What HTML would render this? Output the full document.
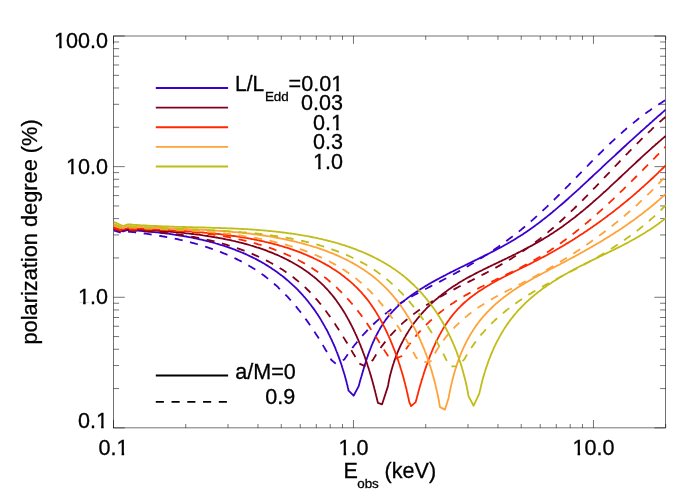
<!DOCTYPE html><html><head><meta charset="utf-8"><style>html,body{margin:0;padding:0;background:#fff}svg{display:block}text{font-family:"Liberation Sans",sans-serif;fill:#000}</style></head><body>
<svg style="will-change:transform" width="700" height="500" viewBox="0 0 700 500">
<rect width="700" height="500" fill="#fff"/>
<g stroke="#000" stroke-width="0.55" fill="none">
<rect x="113.5" y="36.0" width="552.20" height="391.90"/>
<path d="M113.50 427.9v-7.9M113.50 36.0v7.9M185.74 427.9v-3.9M185.74 36.0v3.9M228.00 427.9v-3.9M228.00 36.0v3.9M257.98 427.9v-3.9M257.98 36.0v3.9M281.24 427.9v-3.9M281.24 36.0v3.9M300.24 427.9v-3.9M300.24 36.0v3.9M316.31 427.9v-3.9M316.31 36.0v3.9M330.22 427.9v-3.9M330.22 36.0v3.9M342.50 427.9v-3.9M342.50 36.0v3.9M353.48 427.9v-7.9M353.48 36.0v7.9M425.72 427.9v-3.9M425.72 36.0v3.9M467.98 427.9v-3.9M467.98 36.0v3.9M497.96 427.9v-3.9M497.96 36.0v3.9M521.22 427.9v-3.9M521.22 36.0v3.9M540.22 427.9v-3.9M540.22 36.0v3.9M556.29 427.9v-3.9M556.29 36.0v3.9M570.20 427.9v-3.9M570.20 36.0v3.9M582.48 427.9v-3.9M582.48 36.0v3.9M593.46 427.9v-7.9M593.46 36.0v7.9M665.70 427.9v-3.9M665.70 36.0v3.9M113.5 427.90h11.3M665.7 427.90h-11.3M113.5 388.58h5.6M665.7 388.58h-5.6M113.5 365.57h5.6M665.7 365.57h-5.6M113.5 349.25h5.6M665.7 349.25h-5.6M113.5 336.59h5.6M665.7 336.59h-5.6M113.5 326.25h5.6M665.7 326.25h-5.6M113.5 317.50h5.6M665.7 317.50h-5.6M113.5 309.93h5.6M665.7 309.93h-5.6M113.5 303.24h5.6M665.7 303.24h-5.6M113.5 297.27h11.3M665.7 297.27h-11.3M113.5 257.94h5.6M665.7 257.94h-5.6M113.5 234.94h5.6M665.7 234.94h-5.6M113.5 218.62h5.6M665.7 218.62h-5.6M113.5 205.96h5.6M665.7 205.96h-5.6M113.5 195.61h5.6M665.7 195.61h-5.6M113.5 186.87h5.6M665.7 186.87h-5.6M113.5 179.29h5.6M665.7 179.29h-5.6M113.5 172.61h5.6M665.7 172.61h-5.6M113.5 166.63h11.3M665.7 166.63h-11.3M113.5 127.31h5.6M665.7 127.31h-5.6M113.5 104.31h5.6M665.7 104.31h-5.6M113.5 87.98h5.6M665.7 87.98h-5.6M113.5 75.32h5.6M665.7 75.32h-5.6M113.5 64.98h5.6M665.7 64.98h-5.6M113.5 56.24h5.6M665.7 56.24h-5.6M113.5 48.66h5.6M665.7 48.66h-5.6M113.5 41.98h5.6M665.7 41.98h-5.6M113.5 36.00h11.3M665.7 36.00h-11.3"/>
</g>
<defs><clipPath id="pc"><rect x="113.5" y="36" width="552.6" height="391.8"/></clipPath></defs><g clip-path="url(#pc)"><path d="M113.5 228.5L123.0 231.5L128.0 230.0L129.4 230.1L130.9 230.2L132.4 230.3L133.8 230.4L135.3 230.5L136.7 230.6L138.2 230.7L139.7 230.8L141.1 230.9L142.6 231.0L144.1 231.1L145.6 231.3L147.1 231.4L148.6 231.5L150.1 231.7L151.5 231.8L153.0 232.0L154.5 232.1L156.0 232.3L157.5 232.4L159.0 232.6L160.5 232.8L162.0 233.0L163.5 233.1L165.0 233.3L166.6 233.5L168.1 233.7L169.6 233.9L171.1 234.1L172.6 234.3L174.1 234.6L175.6 234.8L177.1 235.0L178.6 235.3L180.1 235.5L181.7 235.8L183.2 236.0L184.7 236.3L186.2 236.5L187.7 236.8L189.2 237.1L190.7 237.4L192.2 237.7L193.7 238.0L195.2 238.3L196.7 238.6L198.2 239.0L199.7 239.3L201.2 239.6L202.7 240.0L204.2 240.3L205.7 240.7L207.2 241.1L208.7 241.4L210.1 241.8L211.6 242.2L213.1 242.6L214.6 243.0L216.1 243.5L217.5 243.9L219.0 244.3L220.5 244.8L221.9 245.2L223.4 245.7L224.8 246.2L226.3 246.6L227.7 247.1L229.2 247.6L230.6 248.1L232.0 248.6L233.4 249.2L234.9 249.7L236.3 250.3L237.7 250.8L239.1 251.4L240.5 252.0L241.9 252.5L243.3 253.1L244.7 253.7L246.1 254.3L247.5 255.0L248.8 255.6L250.2 256.3L251.6 256.9L252.9 257.6L254.3 258.3L255.6 258.9L256.9 259.6L258.3 260.4L259.6 261.1L260.9 261.8L262.2 262.6L263.5 263.3L264.8 264.1L266.1 264.9L267.4 265.6L268.6 266.4L269.9 267.2L271.2 268.1L272.4 268.9L273.7 269.7L274.9 270.6L276.1 271.4L277.3 272.3L278.5 273.2L279.7 274.1L280.9 275.0L282.1 275.9L283.3 276.8L284.5 277.8L285.6 278.7L286.8 279.7L287.9 280.6L289.0 281.6L290.1 282.6L291.2 283.6L292.3 284.6L293.4 285.6L294.5 286.6L295.6 287.6L296.6 288.7L297.7 289.7L298.7 290.8L299.7 291.9L300.8 293.0L301.8 294.1L302.8 295.2L303.7 296.3L304.7 297.4L305.7 298.5L306.6 299.7L307.6 300.8L308.5 302.0L309.4 303.2L310.3 304.3L311.2 305.5L312.1 306.7L313.0 307.9L313.9 309.1L314.7 310.3L315.6 311.6L316.4 312.8L317.3 314.0L318.1 315.3L318.9 316.6L319.7 317.8L320.5 319.1L321.3 320.4L322.0 321.7L322.8 322.9L323.5 324.2L324.3 325.6L325.0 326.9L325.7 328.2L326.5 329.5L327.2 330.8L327.9 332.2L328.5 333.5L329.2 334.9L329.9 336.2L330.5 337.6L331.2 338.9L331.8 340.3L332.4 341.7L333.1 343.1L333.7 344.5L334.3 345.8L334.9 347.2L335.5 348.6L336.0 350.0L336.6 351.5L337.2 352.9L337.7 354.3L338.2 355.7L338.8 357.1L339.3 358.6L339.8 360.0L340.3 361.4L340.8 362.9L341.3 364.3L341.8 365.8L342.2 367.2L342.7 368.7L343.1 370.1L343.6 371.6L344.0 373.0L344.5 374.5L344.9 376.0L345.3 377.4L345.7 378.9L346.1 380.4L346.5 381.8L346.8 383.3L347.2 384.8L347.6 386.3L347.9 387.7L348.3 389.2L348.6 390.7L353.6 395.7L358.6 386.4L359.0 385.0L359.4 383.5L359.8 382.1L360.2 380.6L360.6 379.2L361.0 377.7L361.5 376.3L361.9 374.8L362.3 373.4L362.7 371.9L363.2 370.4L363.6 369.0L364.0 367.5L364.5 366.0L364.9 364.6L365.4 363.1L365.8 361.7L366.3 360.2L366.8 358.8L367.3 357.3L367.8 355.9L368.3 354.4L368.8 353.0L369.3 351.6L369.9 350.1L370.4 348.7L371.0 347.3L371.5 345.9L372.1 344.5L372.7 343.1L373.3 341.7L374.0 340.3L374.6 338.9L375.2 337.6L375.9 336.2L376.6 334.9L377.3 333.5L378.0 332.2L378.7 330.9L379.5 329.6L380.2 328.3L381.0 327.0L381.8 325.7L382.6 324.5L383.4 323.2L384.2 322.0L385.1 320.8L385.9 319.6L386.8 318.4L387.7 317.2L388.7 316.1L389.6 314.9L390.6 313.8L391.5 312.7L392.5 311.6L393.5 310.5L394.6 309.5L395.6 308.4L396.6 307.4L397.7 306.4L398.8 305.4L399.9 304.4L401.0 303.4L402.1 302.4L403.3 301.5L404.4 300.5L405.6 299.6L406.8 298.7L408.0 297.8L409.2 296.9L410.4 296.0L411.6 295.1L412.8 294.3L414.0 293.4L415.3 292.6L416.5 291.7L417.8 290.9L419.0 290.1L420.3 289.3L421.6 288.5L422.9 287.7L424.2 286.9L425.5 286.1L426.8 285.4L428.1 284.6L429.4 283.8L430.7 283.1L432.0 282.3L433.3 281.6L434.6 280.9L435.9 280.1L437.3 279.4L438.6 278.7L439.9 278.0L441.2 277.3L442.6 276.6L443.9 275.9L445.3 275.2L446.6 274.5L447.9 273.8L449.3 273.1L450.6 272.4L452.0 271.7L453.3 271.1L454.7 270.4L456.0 269.7L457.4 269.0L458.7 268.4L460.1 267.7L461.5 267.0L462.8 266.4L464.2 265.7L465.5 265.0L466.9 264.4L468.2 263.7L469.6 263.1L471.0 262.4L472.3 261.7L473.7 261.1L475.0 260.4L476.4 259.7L477.7 259.1L479.1 258.4L480.4 257.7L481.8 257.1L483.2 256.4L484.5 255.7L485.9 255.1L487.2 254.4L488.5 253.7L489.9 253.0L491.2 252.3L492.6 251.6L493.9 250.9L495.3 250.2L496.6 249.5L497.9 248.8L499.2 248.1L500.6 247.4L501.9 246.7L503.2 246.0L504.5 245.2L505.8 244.5L507.2 243.8L508.5 243.0L509.8 242.3L511.1 241.5L512.4 240.7L513.7 240.0L514.9 239.2L516.2 238.4L517.5 237.6L518.8 236.8L520.1 236.0L521.3 235.2L522.6 234.4L523.8 233.6L525.1 232.7L526.3 231.9L527.6 231.0L528.8 230.2L530.1 229.3L531.3 228.4L532.5 227.6L533.7 226.7L535.0 225.8L536.2 224.9L537.4 224.0L538.6 223.1L539.8 222.2L541.0 221.3L542.2 220.3L543.4 219.4L544.6 218.5L545.8 217.5L547.0 216.6L548.1 215.6L549.3 214.7L550.5 213.7L551.7 212.8L552.8 211.8L554.0 210.8L555.2 209.9L556.3 208.9L557.5 207.9L558.6 206.9L559.8 205.9L560.9 205.0L562.1 204.0L563.2 203.0L564.4 202.0L565.5 201.0L566.6 200.0L567.8 199.0L568.9 197.9L570.0 196.9L571.2 195.9L572.3 194.9L573.4 193.9L574.5 192.9L575.7 191.8L576.8 190.8L577.9 189.8L579.0 188.8L580.1 187.8L581.2 186.7L582.4 185.7L583.5 184.7L584.6 183.7L585.7 182.6L586.8 181.6L587.9 180.6L589.0 179.5L590.1 178.5L591.2 177.5L592.3 176.5L593.4 175.4L594.5 174.4L595.6 173.4L596.7 172.4L597.8 171.3L598.9 170.3L600.0 169.3L601.1 168.3L602.2 167.2L603.3 166.2L604.4 165.2L605.4 164.2L606.5 163.2L607.6 162.2L608.7 161.1L609.8 160.1L610.9 159.1L612.0 158.1L613.1 157.1L614.2 156.1L615.3 155.1L616.4 154.0L617.5 153.0L618.6 152.0L619.7 151.0L620.8 150.0L621.8 149.0L622.9 148.0L624.0 147.0L625.1 146.0L626.2 145.0L627.3 143.9L628.4 142.9L629.5 141.9L630.6 140.9L631.8 139.9L632.9 138.9L634.0 137.9L635.1 136.9L636.2 135.9L637.3 134.9L638.4 133.9L639.5 132.9L640.6 131.8L641.8 130.8L642.9 129.8L644.0 128.8L645.1 127.8L646.2 126.8L647.4 125.8L648.5 124.8L649.6 123.8L650.8 122.8L651.9 121.8L653.0 120.7L654.2 119.7L655.3 118.7L656.5 117.7L657.6 116.7L658.7 115.7L659.9 114.7L661.1 113.7L662.2 112.6L663.4 111.6L664.5 110.6L665.7 109.6" stroke="#3a00cc" stroke-width="1.8" fill="none" stroke-linejoin="round"/>
<path d="M113.5 230.5L123.0 233.2L128.0 231.6L129.5 231.8L131.0 231.9L132.4 232.1L133.9 232.2L135.4 232.4L136.9 232.6L138.4 232.8L139.9 232.9L141.4 233.1L142.9 233.3L144.4 233.5L145.9 233.7L147.4 233.9L148.9 234.1L150.4 234.3L151.9 234.6L153.4 234.8L154.9 235.0L156.4 235.3L157.9 235.5L159.4 235.8L160.9 236.0L162.4 236.3L163.9 236.5L165.4 236.8L166.9 237.1L168.4 237.4L169.9 237.7L171.4 238.0L172.9 238.3L174.4 238.6L175.9 238.9L177.4 239.2L178.8 239.5L180.3 239.9L181.8 240.2L183.3 240.6L184.8 240.9L186.3 241.3L187.8 241.6L189.3 242.0L190.7 242.4L192.2 242.8L193.7 243.2L195.2 243.6L196.6 244.0L198.1 244.4L199.6 244.9L201.0 245.3L202.5 245.7L203.9 246.2L205.4 246.6L206.8 247.1L208.3 247.6L209.7 248.1L211.2 248.6L212.6 249.1L214.0 249.6L215.4 250.1L216.9 250.6L218.3 251.1L219.7 251.7L221.1 252.2L222.5 252.8L223.9 253.4L225.3 253.9L226.7 254.5L228.1 255.1L229.4 255.7L230.8 256.4L232.2 257.0L233.5 257.6L234.9 258.2L236.3 258.9L237.6 259.6L238.9 260.2L240.3 260.9L241.6 261.6L242.9 262.3L244.2 263.0L245.5 263.7L246.8 264.5L248.1 265.2L249.4 266.0L250.7 266.7L252.0 267.5L253.2 268.3L254.5 269.1L255.7 269.9L257.0 270.7L258.2 271.5L259.4 272.4L260.7 273.2L261.9 274.1L263.1 274.9L264.3 275.8L265.5 276.7L266.6 277.6L267.8 278.5L269.0 279.4L270.1 280.4L271.3 281.3L272.4 282.3L273.5 283.3L274.6 284.2L275.8 285.2L276.9 286.2L278.0 287.2L279.0 288.3L280.1 289.3L281.2 290.3L282.3 291.4L283.3 292.4L284.4 293.5L285.4 294.6L286.4 295.7L287.5 296.7L288.5 297.8L289.5 299.0L290.5 300.1L291.5 301.2L292.5 302.3L293.5 303.5L294.4 304.6L295.4 305.8L296.4 306.9L297.3 308.1L298.3 309.3L299.2 310.5L300.2 311.7L301.1 312.8L302.0 314.0L302.9 315.3L303.8 316.5L304.7 317.7L305.6 318.9L306.5 320.1L307.4 321.4L308.3 322.6L309.2 323.9L310.0 325.1L310.9 326.4L311.7 327.6L312.6 328.9L313.4 330.1L314.3 331.4L315.1 332.7L315.9 334.0L316.7 335.2L317.6 336.5L318.4 337.8L319.2 339.1L320.0 340.4L320.8 341.7L321.6 343.0L322.3 344.3L323.1 345.6L323.9 346.9L324.7 348.2L325.4 349.5L326.2 350.8L327.0 352.1L327.7 353.4L328.5 354.7L329.2 356.1L329.9 357.4L330.7 358.7L331.4 360.0L335.7 363.6" stroke="#3a00cc" stroke-width="1.8" fill="none" stroke-linejoin="round" stroke-dasharray="8.1 7.65" stroke-dashoffset="0.60"/>
<path d="M335.7 363.6L344.3 359.5L345.1 358.3L345.9 357.1L346.7 355.9L347.6 354.6L348.4 353.4L349.3 352.2L350.1 351.0L351.0 349.8L351.9 348.6L352.8 347.4L353.7 346.2L354.6 345.0L355.6 343.8L356.5 342.7L357.5 341.5L358.5 340.3L359.4 339.1L360.4 338.0L361.4 336.8L362.4 335.7L363.5 334.5L364.5 333.4L365.5 332.3L366.6 331.1L367.7 330.0L368.7 328.9L369.8 327.8L370.9 326.7L372.0 325.7L373.1 324.6L374.2 323.5L375.3 322.5L376.5 321.4L377.6 320.4L378.7 319.4L379.9 318.4L381.0 317.4L382.2 316.4L383.4 315.4L384.6 314.4L385.8 313.5L387.0 312.6L388.2 311.6L389.4 310.7L390.6 309.8L391.8 308.9L393.0 308.1L394.3 307.2L395.5 306.4L396.8 305.5L398.0 304.7L399.3 303.9L400.5 303.1L401.8 302.3L403.1 301.5L404.4 300.7L405.6 300.0L406.9 299.2L408.2 298.4L409.5 297.7L410.8 297.0L412.1 296.2L413.4 295.5L414.7 294.8L416.0 294.1L417.3 293.4L418.6 292.7L420.0 292.0L421.3 291.3L422.6 290.6L423.9 289.9L425.2 289.2L426.6 288.5L427.9 287.8L429.2 287.1L430.5 286.4L431.9 285.7L433.2 285.1L434.5 284.4L435.9 283.7L437.2 283.0L438.5 282.3L439.9 281.6L441.2 280.9L442.5 280.2L443.8 279.5L445.2 278.8L446.5 278.1L447.8 277.4L449.1 276.7L450.5 276.0L451.8 275.3L453.1 274.5L454.4 273.8L455.7 273.1L457.1 272.3L458.4 271.6L459.7 270.9L461.0 270.1L462.3 269.4L463.6 268.6L464.9 267.9L466.2 267.1L467.6 266.3L468.9 265.6L470.2 264.8L471.5 264.0L472.8 263.3L474.0 262.5L475.3 261.7L476.6 260.9L477.9 260.1L479.2 259.3L480.5 258.5L481.8 257.7L483.1 256.9L484.3 256.1L485.6 255.3L486.9 254.5L488.1 253.6L489.4 252.8L490.7 252.0L491.9 251.1L493.2 250.3L494.4 249.4L495.7 248.6L496.9 247.7L498.2 246.9L499.4 246.0L500.7 245.1L501.9 244.3L503.1 243.4L504.4 242.5L505.6 241.6L506.8 240.7L508.0 239.8L509.2 238.9L510.4 238.0L511.7 237.1L512.9 236.2L514.1 235.3L515.2 234.4L516.4 233.4L517.6 232.5L518.8 231.6L520.0 230.6L521.2 229.7L522.3 228.7L523.5 227.7L524.7 226.8L525.8 225.8L527.0 224.8L528.1 223.9L529.3 222.9L530.4 221.9L531.5 220.9L532.7 219.9L533.8 218.9L534.9 217.9L536.0 216.9L537.2 215.9L538.3 214.8L539.4 213.8L540.5 212.8L541.6 211.8L542.7 210.7L543.8 209.7L544.9 208.7L546.0 207.6L547.1 206.6L548.2 205.5L549.3 204.5L550.4 203.4L551.5 202.4L552.5 201.3L553.6 200.3L554.7 199.2L555.8 198.1L556.8 197.1L557.9 196.0L559.0 194.9L560.1 193.9L561.1 192.8L562.2 191.7L563.3 190.7L564.3 189.6L565.4 188.5L566.4 187.4L567.5 186.3L568.6 185.3L569.6 184.2L570.7 183.1L571.7 182.0L572.8 180.9L573.9 179.8L574.9 178.8L576.0 177.7L577.0 176.6L578.1 175.5L579.1 174.4L580.2 173.3L581.3 172.2L582.3 171.2L583.4 170.1L584.4 169.0L585.5 167.9L586.5 166.8L587.6 165.8L588.7 164.7L589.7 163.6L590.8 162.5L591.8 161.4L592.9 160.4L594.0 159.3L595.0 158.2L596.1 157.2L597.2 156.1L598.2 155.0L599.3 154.0L600.4 152.9L601.5 151.8L602.5 150.8L603.6 149.7L604.7 148.7L605.8 147.6L606.9 146.6L607.9 145.5L609.0 144.5L610.1 143.5L611.2 142.4L612.3 141.4L613.4 140.4L614.5 139.3L615.6 138.3L616.7 137.3L617.8 136.3L619.0 135.3L620.1 134.3L621.2 133.3L622.3 132.3L623.4 131.3L624.6 130.3L625.7 129.3L626.9 128.3L628.0 127.4L629.1 126.4L630.3 125.4L631.4 124.5L632.6 123.5L633.8 122.6L634.9 121.6L636.1 120.7L637.3 119.7L638.4 118.8L639.6 117.9L640.8 117.0L642.0 116.1L643.2 115.2L644.4 114.3L645.6 113.4L646.8 112.5L648.1 111.6L649.3 110.7L650.5 109.9L651.7 109.0L653.0 108.1L654.2 107.3L655.5 106.5L656.7 105.6L658.0 104.8L659.3 104.0L660.5 103.2L661.8 102.4L663.1 101.6L664.4 100.8L665.7 100.0" stroke="#3a00cc" stroke-width="1.8" fill="none" stroke-linejoin="round" stroke-dasharray="8.1 7.65" stroke-dashoffset="7.97"/>
<path d="M113.5 227.5L123.0 230.5L128.0 229.0L129.4 229.1L130.9 229.2L132.3 229.2L133.8 229.3L135.3 229.4L136.7 229.5L138.2 229.6L139.7 229.6L141.1 229.7L142.6 229.8L144.1 229.9L145.6 230.0L147.1 230.1L148.5 230.2L150.0 230.3L151.5 230.3L153.0 230.4L154.5 230.5L156.0 230.6L157.5 230.7L159.0 230.9L160.5 231.0L162.0 231.1L163.5 231.2L165.0 231.3L166.6 231.4L168.1 231.5L169.6 231.7L171.1 231.8L172.6 231.9L174.1 232.1L175.7 232.2L177.2 232.3L178.7 232.5L180.2 232.6L181.7 232.8L183.3 232.9L184.8 233.1L186.3 233.3L187.8 233.4L189.4 233.6L190.9 233.8L192.4 234.0L193.9 234.2L195.5 234.3L197.0 234.5L198.5 234.7L200.0 234.9L201.6 235.1L203.1 235.4L204.6 235.6L206.1 235.8L207.6 236.0L209.2 236.3L210.7 236.5L212.2 236.8L213.7 237.0L215.2 237.3L216.7 237.5L218.3 237.8L219.8 238.1L221.3 238.4L222.8 238.7L224.3 239.0L225.8 239.3L227.3 239.6L228.8 239.9L230.3 240.2L231.8 240.5L233.3 240.9L234.8 241.2L236.2 241.6L237.7 241.9L239.2 242.3L240.7 242.7L242.2 243.0L243.6 243.4L245.1 243.8L246.6 244.2L248.0 244.6L249.5 245.0L250.9 245.5L252.4 245.9L253.8 246.3L255.3 246.8L256.7 247.3L258.2 247.7L259.6 248.2L261.0 248.7L262.4 249.2L263.9 249.7L265.3 250.2L266.7 250.7L268.1 251.3L269.5 251.8L270.9 252.3L272.3 252.9L273.7 253.5L275.0 254.1L276.4 254.6L277.8 255.2L279.1 255.8L280.5 256.5L281.9 257.1L283.2 257.7L284.5 258.4L285.9 259.0L287.2 259.7L288.5 260.4L289.8 261.1L291.1 261.8L292.4 262.5L293.7 263.2L295.0 264.0L296.3 264.7L297.6 265.5L298.8 266.2L300.1 267.0L301.3 267.8L302.5 268.6L303.8 269.4L305.0 270.2L306.2 271.1L307.4 271.9L308.6 272.8L309.8 273.7L310.9 274.6L312.1 275.5L313.2 276.4L314.4 277.3L315.5 278.2L316.6 279.2L317.7 280.2L318.8 281.1L319.9 282.1L321.0 283.1L322.1 284.1L323.1 285.2L324.2 286.2L325.2 287.3L326.2 288.3L327.2 289.4L328.2 290.5L329.2 291.6L330.2 292.8L331.1 293.9L332.1 295.0L333.0 296.2L334.0 297.4L334.9 298.6L335.8 299.8L336.7 301.0L337.5 302.2L338.4 303.4L339.3 304.7L340.1 305.9L341.0 307.2L341.8 308.4L342.6 309.7L343.4 311.0L344.2 312.3L345.0 313.6L345.8 314.9L346.5 316.2L347.3 317.6L348.0 318.9L348.8 320.3L349.5 321.6L350.2 323.0L350.9 324.3L351.6 325.7L352.3 327.1L353.0 328.5L353.7 329.9L354.3 331.3L355.0 332.7L355.6 334.1L356.3 335.5L356.9 336.9L357.5 338.3L358.1 339.7L358.7 341.1L359.3 342.6L359.9 344.0L360.5 345.4L361.0 346.9L361.6 348.3L362.2 349.7L362.7 351.2L363.2 352.6L363.8 354.1L364.3 355.5L364.8 357.0L365.3 358.4L365.8 359.9L366.3 361.3L366.8 362.8L367.3 364.2L367.7 365.7L368.2 367.1L368.7 368.6L369.1 370.0L369.6 371.5L370.0 372.9L370.4 374.4L370.9 375.8L371.3 377.3L371.7 378.7L372.1 380.1L372.5 381.6L372.9 383.0L373.3 384.5L373.7 385.9L374.1 387.3L374.4 388.8L374.8 390.2L375.2 391.6L375.5 393.0L375.9 394.5L376.2 395.9L376.6 397.3L376.9 398.7L377.2 400.1L377.6 401.5L377.9 402.9L382.1 404.3L387.9 386.4L388.2 384.9L388.4 383.5L388.7 382.0L389.0 380.5L389.3 379.1L389.6 377.6L390.0 376.1L390.3 374.7L390.7 373.2L391.1 371.7L391.5 370.3L391.9 368.8L392.3 367.4L392.7 365.9L393.2 364.5L393.7 363.0L394.1 361.6L394.6 360.1L395.1 358.7L395.7 357.3L396.2 355.8L396.8 354.4L397.3 353.0L397.9 351.6L398.5 350.2L399.1 348.8L399.7 347.4L400.4 346.0L401.0 344.6L401.7 343.3L402.4 341.9L403.1 340.6L403.8 339.2L404.5 337.9L405.3 336.6L406.0 335.3L406.8 334.0L407.6 332.7L408.4 331.4L409.2 330.1L410.0 328.9L410.8 327.6L411.7 326.4L412.6 325.1L413.4 323.9L414.3 322.7L415.2 321.5L416.2 320.3L417.1 319.1L418.0 318.0L419.0 316.8L420.0 315.7L420.9 314.5L421.9 313.4L422.9 312.3L423.9 311.2L425.0 310.1L426.0 309.0L427.0 307.9L428.1 306.9L429.2 305.8L430.2 304.8L431.3 303.7L432.4 302.7L433.5 301.7L434.6 300.7L435.7 299.7L436.9 298.8L438.0 297.8L439.2 296.8L440.3 295.9L441.5 295.0L442.7 294.0L443.8 293.1L445.0 292.2L446.2 291.4L447.4 290.5L448.6 289.6L449.9 288.8L451.1 287.9L452.3 287.1L453.5 286.3L454.8 285.5L456.0 284.7L457.3 283.9L458.5 283.1L459.8 282.3L461.1 281.5L462.4 280.8L463.6 280.0L464.9 279.3L466.2 278.5L467.5 277.8L468.8 277.1L470.1 276.4L471.4 275.7L472.8 275.0L474.1 274.3L475.4 273.6L476.7 272.9L478.0 272.2L479.4 271.5L480.7 270.9L482.1 270.2L483.4 269.5L484.7 268.9L486.1 268.2L487.4 267.6L488.8 266.9L490.1 266.3L491.5 265.6L492.8 265.0L494.2 264.3L495.6 263.7L496.9 263.0L498.3 262.4L499.6 261.7L501.0 261.1L502.4 260.4L503.7 259.8L505.1 259.1L506.5 258.5L507.8 257.8L509.2 257.1L510.5 256.5L511.9 255.8L513.3 255.1L514.6 254.5L516.0 253.8L517.3 253.1L518.7 252.4L520.1 251.7L521.4 251.0L522.8 250.3L524.1 249.6L525.5 248.9L526.8 248.2L528.1 247.5L529.5 246.8L530.8 246.1L532.2 245.4L533.5 244.6L534.8 243.9L536.1 243.1L537.5 242.4L538.8 241.6L540.1 240.9L541.4 240.1L542.7 239.4L544.0 238.6L545.3 237.8L546.6 237.0L547.9 236.2L549.1 235.4L550.4 234.6L551.7 233.8L553.0 233.0L554.2 232.1L555.5 231.3L556.7 230.5L558.0 229.6L559.2 228.8L560.4 227.9L561.7 227.0L562.9 226.2L564.1 225.3L565.3 224.4L566.5 223.5L567.7 222.6L568.9 221.7L570.1 220.8L571.3 219.9L572.5 219.0L573.7 218.1L574.9 217.2L576.1 216.2L577.2 215.3L578.4 214.4L579.6 213.4L580.7 212.5L581.9 211.5L583.1 210.6L584.2 209.6L585.4 208.7L586.5 207.7L587.7 206.7L588.8 205.8L589.9 204.8L591.1 203.8L592.2 202.8L593.3 201.8L594.5 200.8L595.6 199.8L596.7 198.9L597.9 197.9L599.0 196.9L600.1 195.9L601.2 194.8L602.3 193.8L603.4 192.8L604.6 191.8L605.7 190.8L606.8 189.8L607.9 188.8L609.0 187.8L610.1 186.7L611.2 185.7L612.3 184.7L613.4 183.7L614.5 182.6L615.6 181.6L616.7 180.6L617.8 179.6L618.9 178.5L620.0 177.5L621.1 176.5L622.2 175.4L623.3 174.4L624.4 173.4L625.5 172.3L626.6 171.3L627.7 170.3L628.8 169.2L629.9 168.2L631.0 167.2L632.1 166.1L633.2 165.1L634.3 164.1L635.4 163.1L636.5 162.0L637.6 161.0L638.7 160.0L639.8 159.0L640.9 157.9L642.0 156.9L643.1 155.9L644.2 154.9L645.3 153.9L646.4 152.9L647.6 151.8L648.7 150.8L649.8 149.8L650.9 148.8L652.0 147.8L653.2 146.8L654.3 145.8L655.4 144.8L656.6 143.8L657.7 142.8L658.8 141.8L660.0 140.9L661.1 139.9L662.2 138.9L663.4 137.9L664.5 137.0L665.7 136.0" stroke="#80001c" stroke-width="1.8" fill="none" stroke-linejoin="round"/>
<path d="M113.5 229.0L123.0 232.0L128.0 230.5L129.5 230.5L130.9 230.6L132.4 230.6L133.8 230.7L135.3 230.7L136.8 230.8L138.2 230.9L139.7 230.9L141.2 231.0L142.7 231.1L144.1 231.2L145.6 231.3L147.1 231.4L148.6 231.5L150.1 231.6L151.6 231.7L153.1 231.8L154.6 231.9L156.1 232.0L157.6 232.2L159.1 232.3L160.6 232.4L162.1 232.6L163.6 232.7L165.1 232.9L166.7 233.1L168.2 233.2L169.7 233.4L171.2 233.6L172.7 233.8L174.2 234.0L175.7 234.2L177.3 234.4L178.8 234.6L180.3 234.8L181.8 235.0L183.3 235.2L184.8 235.5L186.4 235.7L187.9 236.0L189.4 236.2L190.9 236.5L192.4 236.8L193.9 237.0L195.4 237.3L197.0 237.6L198.5 237.9L200.0 238.2L201.5 238.5L203.0 238.8L204.5 239.1L206.0 239.5L207.5 239.8L209.0 240.1L210.5 240.5L212.0 240.8L213.5 241.2L215.0 241.6L216.5 242.0L218.0 242.4L219.4 242.7L220.9 243.2L222.4 243.6L223.9 244.0L225.4 244.4L226.8 244.8L228.3 245.3L229.8 245.7L231.2 246.2L232.7 246.7L234.1 247.1L235.6 247.6L237.0 248.1L238.5 248.6L239.9 249.1L241.3 249.6L242.7 250.2L244.2 250.7L245.6 251.2L247.0 251.8L248.4 252.3L249.8 252.9L251.2 253.5L252.6 254.1L254.0 254.7L255.4 255.3L256.8 255.9L258.1 256.5L259.5 257.1L260.9 257.8L262.2 258.4L263.6 259.1L264.9 259.7L266.3 260.4L267.6 261.1L268.9 261.8L270.2 262.5L271.6 263.2L272.9 264.0L274.2 264.7L275.4 265.4L276.7 266.2L278.0 267.0L279.3 267.7L280.5 268.5L281.8 269.3L283.1 270.1L284.3 270.9L285.5 271.8L286.8 272.6L288.0 273.4L289.2 274.3L290.4 275.2L291.6 276.1L292.8 276.9L293.9 277.8L295.1 278.8L296.3 279.7L297.4 280.6L298.6 281.6L299.7 282.5L300.8 283.5L301.9 284.5L303.0 285.4L304.1 286.4L305.2 287.4L306.3 288.5L307.3 289.5L308.4 290.5L309.5 291.6L310.5 292.7L311.5 293.7L312.5 294.8L313.5 295.9L314.5 297.0L315.5 298.2L316.5 299.3L317.5 300.4L318.5 301.6L319.4 302.7L320.4 303.9L321.3 305.1L322.3 306.2L323.2 307.4L324.1 308.6L325.0 309.8L325.9 311.0L326.8 312.2L327.7 313.5L328.6 314.7L329.5 315.9L330.4 317.2L331.2 318.4L332.1 319.7L333.0 320.9L333.8 322.2L334.7 323.4L335.5 324.7L336.3 326.0L337.2 327.3L338.0 328.6L338.8 329.8L339.6 331.1L340.5 332.4L341.3 333.7L342.1 335.0L342.9 336.3L343.7 337.6L344.5 338.9L345.3 340.2L346.1 341.5L346.9 342.8L347.7 344.1L348.4 345.4L349.2 346.7L350.0 348.0L350.8 349.3L351.6 350.6L352.3 351.9L353.1 353.2L353.9 354.6L354.7 355.8L355.4 357.1L356.2 358.4L357.0 359.7L357.8 361.0L358.5 362.3L359.3 363.6L365.0 366.1" stroke="#80001c" stroke-width="1.8" fill="none" stroke-linejoin="round" stroke-dasharray="8.1 7.65" stroke-dashoffset="0.00"/>
<path d="M365.0 366.1L372.9 360.0L373.7 358.6L374.5 357.3L375.3 355.9L376.2 354.6L377.0 353.3L377.9 351.9L378.7 350.6L379.6 349.4L380.5 348.1L381.4 346.8L382.3 345.6L383.3 344.3L384.2 343.1L385.1 341.9L386.1 340.7L387.1 339.5L388.0 338.4L389.0 337.2L390.0 336.1L391.0 334.9L392.0 333.8L393.1 332.7L394.1 331.6L395.1 330.5L396.2 329.4L397.2 328.4L398.3 327.3L399.4 326.3L400.5 325.2L401.6 324.2L402.7 323.2L403.8 322.2L404.9 321.2L406.0 320.3L407.2 319.3L408.3 318.4L409.4 317.4L410.6 316.5L411.8 315.6L412.9 314.7L414.1 313.8L415.3 312.9L416.5 312.0L417.7 311.1L418.9 310.3L420.1 309.4L421.3 308.6L422.5 307.7L423.7 306.9L425.0 306.1L426.2 305.3L427.4 304.5L428.7 303.7L429.9 302.9L431.2 302.1L432.4 301.3L433.7 300.6L435.0 299.8L436.3 299.1L437.5 298.3L438.8 297.6L440.1 296.8L441.4 296.1L442.7 295.4L444.0 294.7L445.3 294.0L446.6 293.2L447.9 292.5L449.2 291.8L450.5 291.1L451.8 290.4L453.1 289.8L454.5 289.1L455.8 288.4L457.1 287.7L458.4 287.0L459.8 286.3L461.1 285.7L462.4 285.0L463.8 284.3L465.1 283.6L466.4 283.0L467.8 282.3L469.1 281.6L470.4 280.9L471.8 280.3L473.1 279.6L474.5 278.9L475.8 278.2L477.1 277.5L478.5 276.9L479.8 276.2L481.2 275.5L482.5 274.8L483.8 274.1L485.2 273.4L486.5 272.7L487.8 272.0L489.2 271.3L490.5 270.5L491.8 269.8L493.2 269.1L494.5 268.4L495.8 267.6L497.2 266.9L498.5 266.1L499.8 265.4L501.1 264.6L502.4 263.9L503.8 263.1L505.1 262.4L506.4 261.6L507.7 260.8L509.0 260.0L510.3 259.2L511.6 258.4L512.9 257.6L514.2 256.8L515.4 256.0L516.7 255.2L518.0 254.4L519.3 253.6L520.5 252.7L521.8 251.9L523.1 251.0L524.3 250.2L525.6 249.3L526.8 248.5L528.0 247.6L529.3 246.7L530.5 245.8L531.7 244.9L532.9 244.1L534.2 243.1L535.4 242.2L536.6 241.3L537.8 240.4L539.0 239.5L540.2 238.6L541.3 237.6L542.5 236.7L543.7 235.7L544.9 234.8L546.0 233.8L547.2 232.9L548.4 231.9L549.5 230.9L550.7 230.0L551.8 229.0L553.0 228.0L554.1 227.0L555.2 226.0L556.4 225.0L557.5 224.0L558.6 223.0L559.8 222.0L560.9 221.0L562.0 220.0L563.1 219.0L564.2 217.9L565.3 216.9L566.4 215.9L567.5 214.9L568.6 213.8L569.7 212.8L570.8 211.7L571.9 210.7L573.0 209.6L574.1 208.6L575.2 207.5L576.2 206.5L577.3 205.4L578.4 204.3L579.5 203.3L580.5 202.2L581.6 201.1L582.7 200.1L583.8 199.0L584.8 197.9L585.9 196.8L586.9 195.8L588.0 194.7L589.1 193.6L590.1 192.5L591.2 191.4L592.2 190.3L593.3 189.2L594.3 188.2L595.4 187.1L596.4 186.0L597.5 184.9L598.5 183.8L599.6 182.7L600.6 181.6L601.7 180.5L602.7 179.4L603.8 178.3L604.8 177.2L605.8 176.1L606.9 175.0L607.9 173.9L609.0 172.8L610.0 171.7L611.1 170.6L612.1 169.5L613.1 168.4L614.2 167.3L615.2 166.2L616.3 165.1L617.3 164.0L618.4 162.9L619.4 161.8L620.4 160.7L621.5 159.6L622.5 158.5L623.6 157.4L624.6 156.4L625.7 155.3L626.7 154.2L627.8 153.1L628.8 152.0L629.9 150.9L630.9 149.8L632.0 148.8L633.0 147.7L634.1 146.6L635.2 145.5L636.2 144.5L637.3 143.4L638.3 142.3L639.4 141.3L640.5 140.2L641.5 139.2L642.6 138.1L643.7 137.0L644.8 136.0L645.8 134.9L646.9 133.9L648.0 132.9L649.1 131.8L650.2 130.8L651.3 129.8L652.4 128.7L653.5 127.7L654.6 126.7L655.7 125.7L656.8 124.7L657.9 123.6L659.0 122.6L660.1 121.6L661.2 120.6L662.3 119.7L663.4 118.7L664.6 117.7L665.7 116.7" stroke="#80001c" stroke-width="1.8" fill="none" stroke-linejoin="round" stroke-dasharray="8.1 7.65" stroke-dashoffset="7.40"/>
<path d="M113.5 226.5L123.0 229.5L128.0 228.0L129.5 228.1L130.9 228.2L132.4 228.2L133.8 228.3L135.3 228.4L136.8 228.5L138.2 228.6L139.7 228.6L141.2 228.7L142.7 228.8L144.1 228.9L145.6 229.0L147.1 229.0L148.6 229.1L150.1 229.2L151.6 229.3L153.1 229.3L154.6 229.4L156.1 229.5L157.6 229.6L159.1 229.6L160.6 229.7L162.1 229.8L163.6 229.9L165.1 230.0L166.6 230.0L168.1 230.1L169.6 230.2L171.1 230.3L172.6 230.4L174.1 230.5L175.7 230.6L177.2 230.6L178.7 230.7L180.2 230.8L181.7 230.9L183.3 231.0L184.8 231.1L186.3 231.2L187.8 231.3L189.4 231.4L190.9 231.5L192.4 231.7L193.9 231.8L195.5 231.9L197.0 232.0L198.5 232.1L200.0 232.3L201.6 232.4L203.1 232.5L204.6 232.7L206.2 232.8L207.7 232.9L209.2 233.1L210.7 233.2L212.3 233.4L213.8 233.5L215.3 233.7L216.8 233.9L218.4 234.0L219.9 234.2L221.4 234.4L222.9 234.6L224.4 234.8L226.0 234.9L227.5 235.1L229.0 235.3L230.5 235.5L232.0 235.8L233.6 236.0L235.1 236.2L236.6 236.4L238.1 236.6L239.6 236.9L241.1 237.1L242.6 237.4L244.1 237.6L245.6 237.9L247.1 238.1L248.6 238.4L250.1 238.7L251.6 239.0L253.1 239.2L254.6 239.5L256.1 239.8L257.6 240.1L259.1 240.5L260.6 240.8L262.1 241.1L263.5 241.4L265.0 241.8L266.5 242.1L268.0 242.5L269.4 242.8L270.9 243.2L272.4 243.6L273.8 244.0L275.3 244.3L276.7 244.7L278.2 245.1L279.6 245.6L281.1 246.0L282.5 246.4L284.0 246.8L285.4 247.3L286.8 247.7L288.3 248.2L289.7 248.7L291.1 249.2L292.5 249.6L293.9 250.1L295.4 250.6L296.8 251.2L298.2 251.7L299.6 252.2L301.0 252.7L302.4 253.3L303.7 253.9L305.1 254.4L306.5 255.0L307.9 255.6L309.2 256.2L310.6 256.8L312.0 257.4L313.3 258.0L314.7 258.7L316.0 259.3L317.3 260.0L318.7 260.6L320.0 261.3L321.3 262.0L322.6 262.7L323.9 263.4L325.2 264.1L326.5 264.9L327.8 265.6L329.1 266.3L330.3 267.1L331.6 267.9L332.8 268.7L334.1 269.5L335.3 270.3L336.5 271.1L337.8 271.9L339.0 272.8L340.2 273.6L341.4 274.5L342.5 275.4L343.7 276.3L344.9 277.2L346.0 278.1L347.2 279.0L348.3 280.0L349.4 280.9L350.6 281.9L351.7 282.9L352.8 283.8L353.9 284.8L354.9 285.9L356.0 286.9L357.0 287.9L358.1 289.0L359.1 290.1L360.1 291.2L361.2 292.2L362.2 293.4L363.1 294.5L364.1 295.6L365.1 296.8L366.0 297.9L367.0 299.1L367.9 300.3L368.8 301.5L369.7 302.7L370.6 304.0L371.5 305.2L372.3 306.5L373.2 307.7L374.0 309.0L374.9 310.3L375.7 311.6L376.5 312.9L377.3 314.2L378.1 315.6L378.9 316.9L379.6 318.2L380.4 319.6L381.1 320.9L381.9 322.3L382.6 323.7L383.3 325.1L384.0 326.4L384.7 327.8L385.4 329.2L386.1 330.6L386.7 332.0L387.4 333.4L388.0 334.8L388.7 336.2L389.3 337.6L389.9 339.0L390.5 340.4L391.1 341.9L391.7 343.3L392.3 344.7L392.8 346.1L393.4 347.5L393.9 348.9L394.5 350.3L395.0 351.7L395.6 353.2L396.1 354.6L396.6 356.0L397.1 357.4L397.6 358.8L398.1 360.2L398.6 361.7L399.0 363.1L399.5 364.5L400.0 365.9L400.4 367.4L400.8 368.8L401.3 370.2L401.7 371.6L402.1 373.1L402.6 374.5L403.0 375.9L403.4 377.4L403.8 378.8L404.1 380.3L404.5 381.7L404.9 383.1L405.3 384.6L405.6 386.0L406.0 387.5L406.4 388.9L406.7 390.4L407.0 391.8L407.4 393.3L407.7 394.8L408.0 396.2L408.4 397.7L408.7 399.2L409.0 400.6L409.3 402.1L411.1 406.1L415.7 402.1L416.0 400.8L416.4 399.4L416.8 398.0L417.1 396.7L417.5 395.3L417.9 393.9L418.2 392.5L418.6 391.1L419.0 389.7L419.4 388.2L419.8 386.8L420.2 385.4L420.6 383.9L421.1 382.5L421.5 381.0L421.9 379.6L422.4 378.1L422.8 376.7L423.3 375.2L423.7 373.8L424.2 372.3L424.7 370.8L425.2 369.3L425.7 367.9L426.2 366.4L426.7 364.9L427.2 363.5L427.7 362.0L428.3 360.5L428.8 359.1L429.4 357.6L429.9 356.2L430.5 354.7L431.1 353.3L431.7 351.8L432.3 350.4L432.9 348.9L433.5 347.5L434.2 346.1L434.8 344.7L435.5 343.2L436.1 341.8L436.8 340.4L437.5 339.1L438.2 337.7L438.9 336.3L439.6 334.9L440.4 333.6L441.1 332.3L441.9 330.9L442.6 329.6L443.4 328.3L444.2 327.0L445.0 325.7L445.8 324.4L446.7 323.2L447.5 321.9L448.4 320.7L449.3 319.5L450.1 318.3L451.0 317.1L452.0 315.9L452.9 314.7L453.8 313.6L454.8 312.5L455.8 311.4L456.7 310.3L457.7 309.2L458.8 308.1L459.8 307.1L460.8 306.0L461.9 305.0L462.9 304.0L464.0 303.0L465.1 302.0L466.2 301.1L467.3 300.1L468.5 299.2L469.6 298.3L470.8 297.3L471.9 296.5L473.1 295.6L474.3 294.7L475.5 293.8L476.7 293.0L477.9 292.1L479.1 291.3L480.3 290.5L481.6 289.7L482.8 288.9L484.1 288.1L485.3 287.3L486.6 286.5L487.9 285.7L489.2 285.0L490.4 284.2L491.7 283.5L493.0 282.7L494.4 282.0L495.7 281.3L497.0 280.5L498.3 279.8L499.6 279.1L501.0 278.4L502.3 277.7L503.7 277.0L505.0 276.3L506.4 275.6L507.7 274.9L509.1 274.2L510.4 273.6L511.8 272.9L513.1 272.2L514.5 271.5L515.9 270.8L517.2 270.2L518.6 269.5L520.0 268.8L521.3 268.2L522.7 267.5L524.1 266.8L525.5 266.1L526.8 265.5L528.2 264.8L529.6 264.1L530.9 263.4L532.3 262.7L533.6 262.0L535.0 261.3L536.3 260.6L537.7 260.0L539.0 259.2L540.4 258.5L541.7 257.8L543.1 257.1L544.4 256.4L545.8 255.7L547.1 255.0L548.4 254.2L549.7 253.5L551.1 252.8L552.4 252.0L553.7 251.3L555.0 250.5L556.3 249.8L557.6 249.0L558.9 248.3L560.2 247.5L561.5 246.7L562.8 246.0L564.1 245.2L565.4 244.4L566.7 243.6L568.0 242.9L569.3 242.1L570.6 241.3L571.9 240.5L573.1 239.7L574.4 238.9L575.7 238.1L577.0 237.3L578.2 236.4L579.5 235.6L580.7 234.8L582.0 234.0L583.3 233.2L584.5 232.3L585.8 231.5L587.0 230.7L588.2 229.8L589.5 229.0L590.7 228.1L592.0 227.3L593.2 226.4L594.4 225.5L595.7 224.7L596.9 223.8L598.1 222.9L599.3 222.1L600.5 221.2L601.8 220.3L603.0 219.4L604.2 218.5L605.4 217.6L606.6 216.7L607.8 215.8L609.0 214.9L610.2 214.0L611.4 213.1L612.6 212.2L613.8 211.3L614.9 210.4L616.1 209.4L617.3 208.5L618.5 207.6L619.7 206.7L620.8 205.7L622.0 204.8L623.2 203.8L624.3 202.9L625.5 201.9L626.7 201.0L627.8 200.0L629.0 199.0L630.1 198.1L631.3 197.1L632.4 196.1L633.6 195.2L634.7 194.2L635.9 193.2L637.0 192.2L638.1 191.2L639.3 190.2L640.4 189.2L641.5 188.2L642.6 187.2L643.8 186.2L644.9 185.2L646.0 184.2L647.1 183.2L648.2 182.1L649.3 181.1L650.4 180.1L651.6 179.0L652.7 178.0L653.8 177.0L654.9 175.9L656.0 174.9L657.0 173.8L658.1 172.8L659.2 171.7L660.3 170.7L661.4 169.6L662.5 168.5L663.5 167.5L664.6 166.4L665.7 165.3" stroke="#ff2800" stroke-width="1.8" fill="none" stroke-linejoin="round"/>
<path d="M113.5 228.0L123.0 231.0L128.0 229.5L129.4 229.5L130.9 229.5L132.3 229.5L133.8 229.5L135.2 229.5L136.7 229.5L138.2 229.5L139.6 229.5L141.1 229.5L142.6 229.5L144.0 229.5L145.5 229.5L147.0 229.6L148.5 229.6L150.0 229.6L151.5 229.7L152.9 229.7L154.4 229.7L155.9 229.8L157.4 229.8L158.9 229.9L160.4 229.9L161.9 230.0L163.4 230.0L164.9 230.1L166.4 230.2L168.0 230.3L169.5 230.3L171.0 230.4L172.5 230.5L174.0 230.6L175.5 230.7L177.0 230.8L178.6 230.9L180.1 231.0L181.6 231.1L183.1 231.2L184.7 231.4L186.2 231.5L187.7 231.6L189.2 231.8L190.7 231.9L192.3 232.0L193.8 232.2L195.3 232.3L196.8 232.5L198.4 232.7L199.9 232.8L201.4 233.0L202.9 233.2L204.5 233.4L206.0 233.6L207.5 233.8L209.0 234.0L210.6 234.2L212.1 234.4L213.6 234.6L215.1 234.9L216.6 235.1L218.1 235.3L219.7 235.6L221.2 235.8L222.7 236.1L224.2 236.4L225.7 236.6L227.2 236.9L228.7 237.2L230.2 237.5L231.7 237.8L233.2 238.1L234.7 238.4L236.2 238.7L237.7 239.0L239.2 239.4L240.7 239.7L242.2 240.0L243.7 240.4L245.1 240.7L246.6 241.1L248.1 241.5L249.6 241.8L251.0 242.2L252.5 242.6L254.0 243.0L255.4 243.4L256.9 243.8L258.3 244.3L259.8 244.7L261.2 245.1L262.7 245.6L264.1 246.0L265.6 246.5L267.0 247.0L268.4 247.4L269.8 247.9L271.3 248.4L272.7 248.9L274.1 249.4L275.5 250.0L276.9 250.5L278.3 251.0L279.7 251.6L281.1 252.1L282.5 252.7L283.8 253.3L285.2 253.9L286.6 254.5L287.9 255.1L289.3 255.7L290.6 256.3L292.0 256.9L293.3 257.6L294.7 258.2L296.0 258.9L297.3 259.6L298.6 260.3L300.0 261.0L301.3 261.7L302.6 262.4L303.9 263.1L305.1 263.9L306.4 264.6L307.7 265.4L309.0 266.2L310.2 267.0L311.5 267.8L312.7 268.6L314.0 269.4L315.2 270.2L316.4 271.1L317.7 271.9L318.9 272.8L320.1 273.7L321.3 274.6L322.5 275.5L323.7 276.4L324.8 277.4L326.0 278.3L327.2 279.2L328.3 280.2L329.5 281.2L330.6 282.1L331.8 283.1L332.9 284.1L334.0 285.1L335.1 286.2L336.2 287.2L337.3 288.2L338.4 289.3L339.5 290.3L340.6 291.4L341.6 292.5L342.7 293.5L343.7 294.6L344.8 295.7L345.8 296.8L346.8 297.9L347.9 299.1L348.9 300.2L349.9 301.3L350.9 302.5L351.9 303.6L352.8 304.8L353.8 305.9L354.8 307.1L355.7 308.3L356.7 309.4L357.6 310.6L358.5 311.8L359.4 313.0L360.4 314.2L361.3 315.4L362.1 316.6L363.0 317.8L363.9 319.0L364.8 320.3L365.6 321.5L366.5 322.7L367.4 324.0L368.2 325.2L369.1 326.5L369.9 327.7L370.7 328.9L371.6 330.2L372.4 331.5L373.2 332.7L374.0 334.0L374.8 335.2L375.7 336.5L376.5 337.8L377.3 339.1L378.1 340.3L378.9 341.6L379.7 342.9L380.5 344.2L381.3 345.4L382.2 346.7L383.0 348.0L383.8 349.3L384.6 350.6L385.4 351.9L386.2 353.1L387.1 354.4L387.9 355.7L395.7 358.6" stroke="#ff2800" stroke-width="1.8" fill="none" stroke-linejoin="round" stroke-dasharray="8.1 7.65" stroke-dashoffset="15.35"/>
<path d="M395.7 358.6L401.8 356.0L402.6 354.7L403.4 353.4L404.2 352.1L405.0 350.8L405.8 349.5L406.7 348.2L407.5 347.0L408.4 345.7L409.3 344.5L410.2 343.3L411.1 342.0L412.0 340.8L412.9 339.6L413.9 338.4L414.8 337.3L415.8 336.1L416.8 334.9L417.8 333.8L418.7 332.6L419.8 331.5L420.8 330.4L421.8 329.3L422.8 328.2L423.9 327.1L424.9 326.0L426.0 325.0L427.1 323.9L428.2 322.8L429.2 321.8L430.4 320.8L431.5 319.8L432.6 318.8L433.7 317.8L434.8 316.8L436.0 315.8L437.1 314.8L438.3 313.9L439.5 312.9L440.6 312.0L441.8 311.1L443.0 310.1L444.2 309.2L445.4 308.3L446.6 307.5L447.8 306.6L449.1 305.7L450.3 304.9L451.5 304.0L452.8 303.2L454.0 302.4L455.3 301.5L456.5 300.7L457.8 299.9L459.1 299.2L460.3 298.4L461.6 297.6L462.9 296.8L464.2 296.1L465.5 295.3L466.8 294.6L468.1 293.9L469.4 293.1L470.7 292.4L472.0 291.7L473.3 291.0L474.6 290.3L475.9 289.6L477.3 288.9L478.6 288.2L479.9 287.5L481.3 286.8L482.6 286.2L483.9 285.5L485.3 284.8L486.6 284.2L487.9 283.5L489.3 282.8L490.6 282.2L492.0 281.5L493.3 280.9L494.7 280.2L496.0 279.5L497.4 278.9L498.7 278.2L500.1 277.6L501.4 276.9L502.8 276.3L504.1 275.6L505.5 275.0L506.8 274.3L508.2 273.7L509.5 273.0L510.9 272.3L512.2 271.7L513.6 271.0L514.9 270.4L516.2 269.7L517.6 269.0L518.9 268.3L520.3 267.6L521.6 267.0L522.9 266.3L524.3 265.6L525.6 264.9L526.9 264.2L528.2 263.5L529.5 262.7L530.9 262.0L532.2 261.3L533.5 260.6L534.8 259.8L536.1 259.1L537.4 258.3L538.7 257.5L540.0 256.8L541.2 256.0L542.5 255.2L543.8 254.4L545.1 253.6L546.3 252.8L547.6 252.0L548.9 251.2L550.1 250.4L551.4 249.5L552.6 248.7L553.9 247.9L555.1 247.0L556.4 246.2L557.6 245.3L558.8 244.4L560.1 243.6L561.3 242.7L562.5 241.8L563.7 240.9L565.0 240.0L566.2 239.1L567.4 238.2L568.6 237.3L569.8 236.4L571.0 235.5L572.2 234.6L573.4 233.6L574.6 232.7L575.8 231.8L577.0 230.8L578.2 229.9L579.3 228.9L580.5 228.0L581.7 227.0L582.9 226.0L584.0 225.1L585.2 224.1L586.4 223.1L587.5 222.2L588.7 221.2L589.8 220.2L591.0 219.2L592.1 218.2L593.3 217.2L594.4 216.2L595.6 215.2L596.7 214.2L597.9 213.2L599.0 212.2L600.1 211.2L601.3 210.1L602.4 209.1L603.5 208.1L604.6 207.1L605.8 206.0L606.9 205.0L608.0 204.0L609.1 202.9L610.2 201.9L611.3 200.8L612.4 199.8L613.5 198.8L614.6 197.7L615.7 196.7L616.8 195.6L617.9 194.6L619.0 193.5L620.1 192.4L621.2 191.4L622.3 190.3L623.4 189.3L624.5 188.2L625.6 187.1L626.7 186.1L627.7 185.0L628.8 184.0L629.9 182.9L631.0 181.8L632.0 180.8L633.1 179.7L634.2 178.6L635.3 177.5L636.3 176.5L637.4 175.4L638.4 174.3L639.5 173.3L640.6 172.2L641.6 171.1L642.7 170.1L643.8 169.0L644.8 167.9L645.9 166.8L646.9 165.8L648.0 164.7L649.0 163.6L650.1 162.6L651.1 161.5L652.2 160.4L653.2 159.4L654.3 158.3L655.3 157.3L656.3 156.2L657.4 155.1L658.4 154.1L659.5 153.0L660.5 152.0L661.6 150.9L662.6 149.8L663.6 148.8L664.7 147.7L665.7 146.7" stroke="#ff2800" stroke-width="1.8" fill="none" stroke-linejoin="round" stroke-dasharray="8.1 7.65" stroke-dashoffset="1.19"/>
<path d="M113.5 224.3L123.0 227.7L128.0 226.2L129.5 226.3L131.0 226.4L132.5 226.5L134.0 226.6L135.5 226.7L136.9 226.8L138.4 226.8L139.9 226.9L141.4 227.0L142.9 227.1L144.4 227.2L145.9 227.2L147.4 227.3L148.9 227.4L150.4 227.5L151.9 227.5L153.4 227.6L154.9 227.7L156.4 227.8L157.9 227.8L159.4 227.9L160.9 228.0L162.4 228.0L163.9 228.1L165.4 228.1L166.9 228.2L168.4 228.3L170.0 228.3L171.5 228.4L173.0 228.5L174.5 228.5L176.0 228.6L177.5 228.7L179.0 228.7L180.5 228.8L182.0 228.8L183.5 228.9L185.0 229.0L186.5 229.0L188.0 229.1L189.6 229.2L191.1 229.2L192.6 229.3L194.1 229.4L195.6 229.5L197.1 229.5L198.6 229.6L200.1 229.7L201.6 229.8L203.1 229.8L204.7 229.9L206.2 230.0L207.7 230.1L209.2 230.2L210.7 230.3L212.2 230.4L213.7 230.5L215.2 230.6L216.7 230.7L218.2 230.8L219.8 230.9L221.3 231.0L222.8 231.1L224.3 231.2L225.8 231.3L227.3 231.4L228.8 231.6L230.3 231.7L231.8 231.8L233.3 232.0L234.8 232.1L236.3 232.2L237.9 232.4L239.4 232.5L240.9 232.7L242.4 232.8L243.9 233.0L245.4 233.2L246.9 233.3L248.4 233.5L249.9 233.7L251.4 233.9L252.9 234.1L254.4 234.3L255.9 234.4L257.4 234.6L258.9 234.9L260.4 235.1L261.9 235.3L263.4 235.5L264.9 235.7L266.4 236.0L267.9 236.2L269.4 236.4L270.9 236.7L272.4 236.9L273.9 237.2L275.4 237.5L276.9 237.8L278.3 238.0L279.8 238.3L281.3 238.6L282.8 238.9L284.3 239.2L285.8 239.5L287.3 239.8L288.8 240.2L290.2 240.5L291.7 240.8L293.2 241.2L294.7 241.5L296.2 241.9L297.7 242.3L299.1 242.6L300.6 243.0L302.1 243.4L303.6 243.8L305.0 244.2L306.5 244.6L308.0 245.0L309.4 245.5L310.9 245.9L312.4 246.3L313.8 246.8L315.3 247.2L316.7 247.7L318.2 248.2L319.6 248.7L321.0 249.2L322.5 249.7L323.9 250.2L325.3 250.7L326.8 251.2L328.2 251.8L329.6 252.3L331.0 252.9L332.4 253.4L333.8 254.0L335.2 254.6L336.6 255.2L338.0 255.8L339.3 256.4L340.7 257.0L342.1 257.7L343.4 258.3L344.8 259.0L346.1 259.6L347.5 260.3L348.8 261.0L350.1 261.7L351.5 262.4L352.8 263.1L354.1 263.9L355.4 264.6L356.6 265.3L357.9 266.1L359.2 266.9L360.5 267.7L361.7 268.5L363.0 269.3L364.2 270.1L365.4 270.9L366.6 271.8L367.8 272.6L369.0 273.5L370.2 274.3L371.4 275.2L372.6 276.1L373.7 277.0L374.9 278.0L376.0 278.9L377.1 279.9L378.3 280.8L379.4 281.8L380.5 282.8L381.5 283.8L382.6 284.8L383.7 285.8L384.7 286.8L385.8 287.9L386.8 289.0L387.8 290.0L388.8 291.1L389.8 292.2L390.8 293.3L391.8 294.4L392.7 295.5L393.7 296.7L394.6 297.8L395.6 298.9L396.5 300.1L397.4 301.3L398.3 302.5L399.2 303.7L400.1 304.9L401.0 306.1L401.8 307.3L402.7 308.5L403.5 309.7L404.4 311.0L405.2 312.2L406.0 313.5L406.8 314.8L407.6 316.0L408.4 317.3L409.2 318.6L410.0 319.9L410.7 321.2L411.5 322.5L412.2 323.9L412.9 325.2L413.6 326.5L414.4 327.9L415.1 329.2L415.7 330.5L416.4 331.9L417.1 333.3L417.8 334.6L418.4 336.0L419.1 337.4L419.7 338.8L420.3 340.2L420.9 341.6L421.6 343.0L422.2 344.4L422.7 345.8L423.3 347.2L423.9 348.6L424.5 350.0L425.0 351.5L425.6 352.9L426.1 354.3L426.6 355.8L427.2 357.2L427.7 358.7L428.2 360.1L428.7 361.6L429.2 363.0L429.6 364.5L430.1 365.9L430.6 367.4L431.0 368.8L431.5 370.3L431.9 371.8L432.3 373.2L432.7 374.7L433.2 376.2L433.6 377.7L434.0 379.1L434.3 380.6L434.7 382.1L435.1 383.5L435.5 385.0L435.8 386.5L436.2 388.0L436.5 389.5L436.8 390.9L437.2 392.4L437.5 393.9L437.8 395.3L438.1 396.8L438.4 398.3L438.7 399.8L439.0 401.2L439.2 402.7L439.5 404.2L439.7 405.6L440.0 407.1L445.0 409.6L448.6 397.9L448.9 396.5L449.1 395.0L449.4 393.6L449.7 392.1L450.0 390.7L450.3 389.2L450.6 387.8L450.9 386.3L451.3 384.8L451.6 383.4L452.0 381.9L452.3 380.5L452.7 379.0L453.1 377.5L453.5 376.1L453.9 374.6L454.3 373.1L454.7 371.7L455.1 370.2L455.6 368.7L456.1 367.3L456.5 365.8L457.0 364.4L457.5 362.9L458.0 361.5L458.5 360.0L459.1 358.6L459.6 357.1L460.2 355.7L460.7 354.3L461.3 352.9L461.9 351.4L462.5 350.0L463.1 348.6L463.8 347.2L464.4 345.9L465.1 344.5L465.8 343.1L466.4 341.7L467.2 340.4L467.9 339.0L468.6 337.7L469.4 336.4L470.1 335.0L470.9 333.7L471.7 332.4L472.5 331.2L473.3 329.9L474.1 328.6L475.0 327.4L475.8 326.1L476.7 324.9L477.6 323.7L478.5 322.5L479.4 321.3L480.3 320.1L481.3 318.9L482.3 317.8L483.2 316.6L484.2 315.5L485.2 314.4L486.2 313.3L487.2 312.2L488.3 311.1L489.3 310.1L490.4 309.0L491.4 308.0L492.5 307.0L493.6 305.9L494.7 304.9L495.8 303.9L496.9 303.0L498.1 302.0L499.2 301.0L500.4 300.1L501.5 299.1L502.7 298.2L503.9 297.3L505.1 296.4L506.3 295.5L507.5 294.6L508.7 293.7L509.9 292.8L511.1 292.0L512.3 291.1L513.6 290.3L514.8 289.5L516.1 288.7L517.3 287.8L518.6 287.0L519.8 286.3L521.1 285.5L522.4 284.7L523.7 283.9L524.9 283.2L526.2 282.4L527.5 281.7L528.8 280.9L530.1 280.2L531.4 279.4L532.7 278.7L534.0 278.0L535.4 277.3L536.7 276.6L538.0 275.9L539.3 275.1L540.6 274.4L541.9 273.7L543.2 273.0L544.6 272.3L545.9 271.6L547.2 270.9L548.5 270.2L549.9 269.5L551.2 268.8L552.5 268.1L553.8 267.4L555.2 266.7L556.5 266.0L557.8 265.4L559.2 264.7L560.5 264.0L561.8 263.3L563.1 262.6L564.5 261.9L565.8 261.2L567.1 260.4L568.5 259.7L569.8 259.0L571.1 258.3L572.5 257.6L573.8 256.9L575.1 256.2L576.4 255.5L577.8 254.7L579.1 254.0L580.4 253.3L581.7 252.5L583.1 251.8L584.4 251.1L585.7 250.3L587.0 249.6L588.3 248.8L589.7 248.1L591.0 247.3L592.3 246.6L593.6 245.8L594.9 245.1L596.2 244.3L597.5 243.5L598.8 242.8L600.1 242.0L601.4 241.2L602.7 240.4L604.0 239.6L605.3 238.8L606.6 238.0L607.9 237.2L609.2 236.4L610.5 235.6L611.8 234.8L613.1 234.0L614.3 233.2L615.6 232.3L616.9 231.5L618.2 230.7L619.4 229.9L620.7 229.0L622.0 228.2L623.2 227.3L624.5 226.5L625.7 225.6L627.0 224.8L628.2 223.9L629.4 223.0L630.7 222.1L631.9 221.3L633.1 220.4L634.4 219.5L635.6 218.6L636.8 217.7L638.0 216.8L639.2 215.9L640.4 215.0L641.6 214.1L642.8 213.2L644.0 212.3L645.2 211.3L646.4 210.4L647.6 209.5L648.7 208.5L649.9 207.6L651.1 206.6L652.2 205.7L653.4 204.7L654.5 203.8L655.7 202.8L656.8 201.8L657.9 200.9L659.1 199.9L660.2 198.9L661.3 197.9L662.4 196.9L663.5 195.9L664.6 194.9L665.7 193.9" stroke="#ffa238" stroke-width="1.8" fill="none" stroke-linejoin="round"/>
<path d="M113.5 225.5L123.0 229.0L128.0 227.5L129.5 227.6L131.0 227.7L132.4 227.7L133.9 227.8L135.4 227.9L136.9 228.0L138.4 228.0L139.9 228.1L141.3 228.2L142.8 228.3L144.3 228.3L145.8 228.4L147.3 228.5L148.8 228.5L150.3 228.6L151.8 228.7L153.3 228.7L154.8 228.8L156.3 228.9L157.8 229.0L159.3 229.0L160.8 229.1L162.3 229.2L163.8 229.2L165.3 229.3L166.8 229.4L168.4 229.5L169.9 229.5L171.4 229.6L172.9 229.7L174.4 229.8L175.9 229.8L177.4 229.9L178.9 230.0L180.5 230.1L182.0 230.2L183.5 230.3L185.0 230.3L186.5 230.4L188.0 230.5L189.6 230.6L191.1 230.7L192.6 230.8L194.1 230.9L195.6 231.0L197.2 231.1L198.7 231.2L200.2 231.3L201.7 231.5L203.2 231.6L204.7 231.7L206.3 231.8L207.8 231.9L209.3 232.1L210.8 232.2L212.3 232.3L213.9 232.5L215.4 232.6L216.9 232.7L218.4 232.9L219.9 233.0L221.4 233.2L223.0 233.4L224.5 233.5L226.0 233.7L227.5 233.9L229.0 234.0L230.5 234.2L232.0 234.4L233.5 234.6L235.1 234.8L236.6 235.0L238.1 235.2L239.6 235.4L241.1 235.6L242.6 235.8L244.1 236.1L245.6 236.3L247.1 236.5L248.6 236.8L250.1 237.0L251.6 237.2L253.1 237.5L254.6 237.8L256.1 238.0L257.6 238.3L259.1 238.6L260.6 238.9L262.1 239.2L263.6 239.5L265.1 239.8L266.5 240.1L268.0 240.4L269.5 240.7L271.0 241.0L272.5 241.4L274.0 241.7L275.4 242.1L276.9 242.4L278.4 242.8L279.9 243.2L281.3 243.5L282.8 243.9L284.2 244.3L285.7 244.7L287.2 245.1L288.6 245.5L290.1 246.0L291.5 246.4L293.0 246.8L294.4 247.3L295.8 247.7L297.3 248.2L298.7 248.7L300.1 249.1L301.6 249.6L303.0 250.1L304.4 250.6L305.8 251.2L307.2 251.7L308.6 252.2L310.0 252.7L311.4 253.3L312.8 253.9L314.2 254.4L315.6 255.0L317.0 255.6L318.3 256.2L319.7 256.8L321.0 257.4L322.4 258.0L323.7 258.7L325.1 259.3L326.4 260.0L327.8 260.6L329.1 261.3L330.4 262.0L331.7 262.7L333.0 263.4L334.3 264.1L335.6 264.8L336.9 265.6L338.2 266.3L339.4 267.1L340.7 267.9L342.0 268.6L343.2 269.4L344.5 270.2L345.7 271.1L346.9 271.9L348.2 272.7L349.4 273.6L350.6 274.4L351.8 275.3L353.0 276.2L354.1 277.1L355.3 278.0L356.5 278.9L357.6 279.9L358.8 280.8L359.9 281.8L361.1 282.7L362.2 283.7L363.3 284.7L364.4 285.7L365.5 286.7L366.6 287.8L367.7 288.8L368.7 289.9L369.8 290.9L370.8 292.0L371.9 293.1L372.9 294.2L373.9 295.3L375.0 296.4L376.0 297.5L377.0 298.6L378.0 299.8L379.0 300.9L379.9 302.1L380.9 303.3L381.9 304.4L382.8 305.6L383.8 306.8L384.7 308.0L385.7 309.2L386.6 310.4L387.5 311.6L388.4 312.9L389.3 314.1L390.2 315.3L391.1 316.6L392.0 317.8L392.9 319.1L393.8 320.3L394.6 321.6L395.5 322.8L396.3 324.1L397.2 325.4L398.0 326.7L398.9 327.9L399.7 329.2L400.5 330.5L401.3 331.8L402.1 333.1L402.9 334.4L403.7 335.7L404.5 337.0L405.3 338.3L406.1 339.6L406.9 340.9L407.6 342.2L408.4 343.5L409.1 344.8L409.9 346.1L410.6 347.5L411.4 348.8L412.1 350.1L412.8 351.4L413.6 352.7L414.3 354.0L415.0 355.3L415.7 356.6L416.4 357.9L424.3 362.1" stroke="#ffa238" stroke-width="1.8" fill="none" stroke-linejoin="round" stroke-dasharray="8.1 7.65" stroke-dashoffset="15.55"/>
<path d="M424.3 362.1L430.7 361.4L431.4 360.0L432.1 358.6L432.8 357.2L433.5 355.9L434.2 354.5L435.0 353.2L435.8 351.9L436.5 350.5L437.3 349.2L438.2 347.9L439.0 346.7L439.8 345.4L440.7 344.1L441.6 342.9L442.5 341.7L443.4 340.4L444.3 339.2L445.2 338.0L446.1 336.9L447.1 335.7L448.1 334.5L449.0 333.4L450.0 332.2L451.0 331.1L452.0 330.0L453.1 328.9L454.1 327.8L455.2 326.7L456.2 325.7L457.3 324.6L458.4 323.6L459.5 322.5L460.6 321.5L461.7 320.5L462.8 319.5L463.9 318.5L465.1 317.6L466.2 316.6L467.4 315.7L468.5 314.7L469.7 313.8L470.9 312.9L472.1 312.0L473.3 311.1L474.5 310.2L475.7 309.3L476.9 308.5L478.1 307.6L479.4 306.8L480.6 306.0L481.9 305.2L483.1 304.4L484.4 303.6L485.6 302.8L486.9 302.0L488.2 301.2L489.4 300.5L490.7 299.7L492.0 299.0L493.3 298.3L494.6 297.5L495.9 296.8L497.2 296.1L498.5 295.4L499.8 294.7L501.1 294.0L502.5 293.3L503.8 292.6L505.1 291.9L506.4 291.2L507.7 290.5L509.1 289.8L510.4 289.2L511.7 288.5L513.1 287.8L514.4 287.1L515.7 286.4L517.1 285.8L518.4 285.1L519.7 284.4L521.1 283.7L522.4 283.0L523.7 282.3L525.1 281.6L526.4 280.9L527.7 280.2L529.1 279.5L530.4 278.8L531.7 278.1L533.0 277.4L534.4 276.7L535.7 276.0L537.0 275.3L538.3 274.5L539.6 273.8L541.0 273.1L542.3 272.3L543.6 271.6L544.9 270.8L546.2 270.1L547.5 269.3L548.8 268.6L550.2 267.8L551.5 267.1L552.8 266.3L554.1 265.5L555.4 264.8L556.7 264.0L558.0 263.2L559.3 262.4L560.6 261.6L561.8 260.8L563.1 260.0L564.4 259.2L565.7 258.4L567.0 257.6L568.3 256.8L569.6 256.0L570.8 255.2L572.1 254.4L573.4 253.6L574.7 252.7L575.9 251.9L577.2 251.1L578.5 250.2L579.7 249.4L581.0 248.5L582.2 247.7L583.5 246.8L584.8 246.0L586.0 245.1L587.3 244.3L588.5 243.4L589.8 242.5L591.0 241.7L592.2 240.8L593.5 239.9L594.7 239.0L595.9 238.1L597.2 237.2L598.4 236.3L599.6 235.4L600.8 234.5L602.0 233.6L603.3 232.7L604.5 231.8L605.7 230.9L606.9 230.0L608.1 229.1L609.3 228.1L610.5 227.2L611.7 226.3L612.9 225.3L614.0 224.4L615.2 223.4L616.4 222.5L617.6 221.5L618.8 220.6L619.9 219.6L621.1 218.7L622.3 217.7L623.4 216.7L624.6 215.8L625.7 214.8L626.9 213.8L628.0 212.8L629.2 211.8L630.3 210.8L631.4 209.8L632.6 208.8L633.7 207.8L634.8 206.8L636.0 205.8L637.1 204.8L638.2 203.8L639.3 202.7L640.4 201.7L641.5 200.7L642.6 199.7L643.7 198.6L644.8 197.6L645.9 196.5L647.0 195.5L648.0 194.4L649.1 193.4L650.2 192.3L651.2 191.3L652.3 190.2L653.4 189.1L654.4 188.1L655.5 187.0L656.5 185.9L657.5 184.8L658.6 183.7L659.6 182.6L660.6 181.5L661.7 180.4L662.7 179.3L663.7 178.2L664.7 177.1L665.7 176.0" stroke="#ffa238" stroke-width="1.8" fill="none" stroke-linejoin="round" stroke-dasharray="8.1 7.65" stroke-dashoffset="0.49"/>
<path d="M113.5 221.8L123.0 226.0L128.0 224.3L129.5 224.4L130.9 224.5L132.4 224.6L133.9 224.8L135.4 224.9L136.9 225.0L138.3 225.1L139.8 225.2L141.3 225.3L142.8 225.3L144.3 225.4L145.8 225.5L147.2 225.6L148.7 225.7L150.2 225.8L151.7 225.8L153.2 225.9L154.7 226.0L156.2 226.0L157.7 226.1L159.2 226.2L160.7 226.2L162.2 226.3L163.7 226.3L165.2 226.4L166.7 226.5L168.2 226.5L169.7 226.6L171.2 226.6L172.7 226.7L174.2 226.7L175.7 226.8L177.2 226.8L178.7 226.8L180.2 226.9L181.7 226.9L183.2 227.0L184.8 227.0L186.3 227.1L187.8 227.1L189.3 227.1L190.8 227.2L192.3 227.2L193.8 227.3L195.3 227.3L196.9 227.3L198.4 227.4L199.9 227.4L201.4 227.5L202.9 227.5L204.4 227.5L206.0 227.6L207.5 227.6L209.0 227.7L210.5 227.7L212.0 227.8L213.5 227.8L215.1 227.9L216.6 227.9L218.1 227.9L219.6 228.0L221.1 228.1L222.7 228.1L224.2 228.2L225.7 228.2L227.2 228.3L228.7 228.3L230.2 228.4L231.8 228.5L233.3 228.5L234.8 228.6L236.3 228.7L237.8 228.7L239.4 228.8L240.9 228.9L242.4 229.0L243.9 229.1L245.4 229.2L247.0 229.2L248.5 229.3L250.0 229.4L251.5 229.5L253.0 229.6L254.5 229.7L256.0 229.8L257.6 230.0L259.1 230.1L260.6 230.2L262.1 230.3L263.6 230.4L265.1 230.6L266.6 230.7L268.2 230.8L269.7 231.0L271.2 231.1L272.7 231.3L274.2 231.4L275.7 231.6L277.2 231.8L278.7 231.9L280.2 232.1L281.7 232.3L283.2 232.5L284.7 232.7L286.2 232.9L287.7 233.1L289.2 233.3L290.7 233.5L292.2 233.7L293.7 233.9L295.2 234.1L296.7 234.4L298.2 234.6L299.7 234.8L301.2 235.1L302.7 235.3L304.2 235.6L305.7 235.9L307.2 236.1L308.7 236.4L310.1 236.7L311.6 237.0L313.1 237.3L314.6 237.6L316.1 237.9L317.6 238.2L319.0 238.6L320.5 238.9L322.0 239.2L323.5 239.6L324.9 239.9L326.4 240.3L327.9 240.7L329.3 241.0L330.8 241.4L332.3 241.8L333.7 242.2L335.2 242.6L336.6 243.0L338.1 243.4L339.5 243.9L341.0 244.3L342.4 244.8L343.9 245.2L345.3 245.7L346.7 246.2L348.2 246.6L349.6 247.1L351.0 247.6L352.4 248.1L353.8 248.7L355.2 249.2L356.6 249.7L358.0 250.3L359.4 250.8L360.8 251.4L362.2 251.9L363.6 252.5L365.0 253.1L366.3 253.7L367.7 254.3L369.1 254.9L370.4 255.6L371.8 256.2L373.1 256.9L374.4 257.5L375.8 258.2L377.1 258.9L378.4 259.6L379.7 260.3L381.0 261.0L382.3 261.7L383.6 262.4L384.9 263.2L386.2 263.9L387.4 264.7L388.7 265.5L389.9 266.3L391.2 267.1L392.4 267.9L393.6 268.7L394.9 269.5L396.1 270.4L397.3 271.2L398.5 272.1L399.7 273.0L400.8 273.9L402.0 274.8L403.2 275.7L404.3 276.6L405.5 277.6L406.6 278.5L407.7 279.5L408.8 280.5L409.9 281.5L411.0 282.5L412.1 283.5L413.2 284.5L414.3 285.5L415.3 286.6L416.4 287.6L417.4 288.7L418.4 289.8L419.5 290.8L420.5 291.9L421.5 293.0L422.5 294.2L423.4 295.3L424.4 296.4L425.4 297.6L426.3 298.7L427.3 299.9L428.2 301.1L429.1 302.2L430.0 303.4L431.0 304.6L431.8 305.8L432.7 307.0L433.6 308.3L434.5 309.5L435.3 310.7L436.2 312.0L437.0 313.2L437.8 314.5L438.6 315.8L439.5 317.1L440.2 318.3L441.0 319.6L441.8 320.9L442.6 322.2L443.3 323.5L444.1 324.9L444.8 326.2L445.5 327.5L446.2 328.9L446.9 330.2L447.6 331.6L448.3 332.9L449.0 334.3L449.6 335.6L450.3 337.0L450.9 338.4L451.6 339.8L452.2 341.2L452.8 342.6L453.4 344.0L454.0 345.4L454.6 346.8L455.1 348.2L455.7 349.6L456.3 351.0L456.8 352.4L457.3 353.9L457.8 355.3L458.4 356.7L458.9 358.2L459.3 359.6L459.8 361.1L460.3 362.5L460.8 364.0L461.2 365.4L461.7 366.9L462.1 368.3L462.5 369.8L462.9 371.3L463.3 372.7L463.7 374.2L464.1 375.7L464.5 377.2L464.9 378.6L465.2 380.1L465.6 381.6L465.9 383.1L466.3 384.5L466.6 386.0L466.9 387.5L467.2 389.0L467.5 390.5L467.8 391.9L468.1 393.4L468.3 394.9L468.6 396.4L473.6 405.7L479.3 393.6L479.6 392.1L479.9 390.6L480.3 389.2L480.6 387.7L481.0 386.2L481.3 384.7L481.7 383.3L482.1 381.8L482.4 380.3L482.8 378.8L483.2 377.4L483.7 375.9L484.1 374.4L484.5 373.0L485.0 371.5L485.4 370.0L485.9 368.6L486.4 367.1L486.9 365.7L487.4 364.2L487.9 362.8L488.4 361.3L488.9 359.9L489.5 358.5L490.0 357.1L490.6 355.6L491.2 354.2L491.8 352.8L492.4 351.4L493.0 350.0L493.6 348.6L494.2 347.2L494.9 345.8L495.5 344.5L496.2 343.1L496.9 341.7L497.6 340.4L498.3 339.1L499.0 337.7L499.8 336.4L500.5 335.1L501.3 333.8L502.0 332.4L502.8 331.2L503.6 329.9L504.4 328.6L505.3 327.3L506.1 326.1L506.9 324.8L507.8 323.6L508.7 322.4L509.5 321.1L510.4 319.9L511.3 318.7L512.3 317.6L513.2 316.4L514.1 315.2L515.1 314.1L516.1 313.0L517.0 311.8L518.0 310.7L519.0 309.6L520.1 308.5L521.1 307.5L522.1 306.4L523.2 305.3L524.2 304.3L525.3 303.2L526.4 302.2L527.5 301.2L528.6 300.2L529.7 299.2L530.8 298.2L531.9 297.3L533.1 296.3L534.2 295.3L535.4 294.4L536.6 293.5L537.7 292.5L538.9 291.6L540.1 290.7L541.3 289.8L542.5 288.9L543.7 288.0L545.0 287.2L546.2 286.3L547.4 285.4L548.7 284.6L549.9 283.7L551.2 282.9L552.4 282.1L553.7 281.3L555.0 280.5L556.2 279.7L557.5 278.9L558.8 278.1L560.1 277.3L561.4 276.5L562.7 275.8L564.0 275.0L565.3 274.2L566.7 273.5L568.0 272.8L569.3 272.0L570.6 271.3L572.0 270.6L573.3 269.8L574.6 269.1L576.0 268.4L577.3 267.7L578.7 267.0L580.0 266.3L581.4 265.6L582.7 265.0L584.1 264.3L585.4 263.6L586.8 262.9L588.2 262.2L589.5 261.6L590.9 260.9L592.2 260.2L593.6 259.6L595.0 258.9L596.3 258.2L597.7 257.6L599.1 256.9L600.4 256.2L601.8 255.6L603.2 254.9L604.5 254.3L605.9 253.6L607.3 252.9L608.6 252.3L610.0 251.6L611.4 250.9L612.7 250.3L614.1 249.6L615.5 248.9L616.8 248.2L618.2 247.6L619.5 246.9L620.9 246.2L622.2 245.5L623.6 244.8L624.9 244.1L626.3 243.4L627.6 242.7L628.9 242.0L630.3 241.2L631.6 240.5L632.9 239.8L634.2 239.1L635.6 238.3L636.9 237.6L638.2 236.8L639.5 236.1L640.8 235.3L642.1 234.5L643.4 233.7L644.7 232.9L646.0 232.1L647.2 231.3L648.5 230.5L649.8 229.7L651.0 228.9L652.3 228.0L653.6 227.2L654.8 226.3L656.0 225.5L657.3 224.6L658.5 223.7L659.7 222.8L660.9 221.9L662.1 221.0L663.3 220.1L664.5 219.1L665.7 218.2" stroke="#c0bc18" stroke-width="1.8" fill="none" stroke-linejoin="round"/>
<path d="M113.5 223.8L123.0 228.0L128.0 226.3L129.5 226.4L131.0 226.5L132.5 226.7L134.0 226.8L135.5 226.9L137.0 227.0L138.5 227.1L140.0 227.2L141.4 227.3L142.9 227.4L144.4 227.5L145.9 227.5L147.4 227.6L148.9 227.7L150.4 227.8L152.0 227.9L153.5 227.9L155.0 228.0L156.5 228.1L158.0 228.2L159.5 228.2L161.0 228.3L162.5 228.4L164.0 228.4L165.5 228.5L167.0 228.6L168.5 228.6L170.0 228.7L171.5 228.8L173.0 228.8L174.6 228.9L176.1 228.9L177.6 229.0L179.1 229.0L180.6 229.1L182.1 229.2L183.6 229.2L185.1 229.3L186.6 229.3L188.2 229.4L189.7 229.4L191.2 229.5L192.7 229.6L194.2 229.6L195.7 229.7L197.2 229.7L198.8 229.8L200.3 229.9L201.8 229.9L203.3 230.0L204.8 230.0L206.3 230.1L207.8 230.2L209.4 230.2L210.9 230.3L212.4 230.4L213.9 230.5L215.4 230.5L216.9 230.6L218.4 230.7L220.0 230.8L221.5 230.8L223.0 230.9L224.5 231.0L226.0 231.1L227.5 231.2L229.0 231.3L230.6 231.4L232.1 231.5L233.6 231.6L235.1 231.7L236.6 231.8L238.1 231.9L239.6 232.0L241.1 232.2L242.7 232.3L244.2 232.4L245.7 232.5L247.2 232.7L248.7 232.8L250.2 232.9L251.7 233.1L253.2 233.2L254.7 233.4L256.3 233.5L257.8 233.7L259.3 233.9L260.8 234.0L262.3 234.2L263.8 234.4L265.3 234.6L266.8 234.8L268.3 235.0L269.8 235.2L271.3 235.4L272.8 235.6L274.3 235.8L275.8 236.0L277.3 236.2L278.8 236.5L280.3 236.7L281.8 236.9L283.3 237.2L284.8 237.4L286.3 237.7L287.8 238.0L289.3 238.2L290.8 238.5L292.3 238.8L293.8 239.1L295.3 239.4L296.7 239.7L298.2 240.0L299.7 240.3L301.2 240.7L302.7 241.0L304.2 241.3L305.7 241.7L307.1 242.0L308.6 242.4L310.1 242.8L311.6 243.1L313.0 243.5L314.5 243.9L316.0 244.3L317.4 244.7L318.9 245.1L320.4 245.6L321.8 246.0L323.3 246.4L324.7 246.9L326.2 247.3L327.6 247.8L329.1 248.3L330.5 248.8L331.9 249.3L333.3 249.8L334.8 250.3L336.2 250.8L337.6 251.3L339.0 251.9L340.4 252.4L341.8 253.0L343.2 253.5L344.6 254.1L346.0 254.7L347.4 255.3L348.7 255.9L350.1 256.5L351.5 257.2L352.8 257.8L354.2 258.4L355.5 259.1L356.8 259.8L358.2 260.5L359.5 261.1L360.8 261.9L362.1 262.6L363.4 263.3L364.7 264.0L366.0 264.8L367.3 265.5L368.6 266.3L369.8 267.1L371.1 267.9L372.3 268.7L373.6 269.5L374.8 270.3L376.0 271.1L377.3 272.0L378.5 272.9L379.7 273.7L380.9 274.6L382.0 275.5L383.2 276.4L384.4 277.3L385.6 278.3L386.7 279.2L387.8 280.2L389.0 281.1L390.1 282.1L391.2 283.1L392.3 284.1L393.4 285.1L394.5 286.1L395.6 287.1L396.7 288.1L397.8 289.2L398.8 290.2L399.9 291.3L401.0 292.3L402.0 293.4L403.0 294.5L404.0 295.6L405.1 296.7L406.1 297.8L407.1 298.9L408.1 300.1L409.0 301.2L410.0 302.3L411.0 303.5L411.9 304.6L412.9 305.8L413.8 307.0L414.8 308.2L415.7 309.4L416.6 310.6L417.5 311.8L418.4 313.0L419.3 314.2L420.2 315.4L421.1 316.6L422.0 317.9L422.8 319.1L423.7 320.4L424.5 321.6L425.4 322.9L426.2 324.1L427.0 325.4L427.9 326.7L428.7 328.0L429.5 329.3L430.3 330.5L431.1 331.8L431.9 333.1L432.7 334.5L433.4 335.8L434.2 337.1L435.0 338.4L435.7 339.7L436.5 341.0L437.2 342.4L437.9 343.7L438.7 345.1L439.4 346.4L440.1 347.7L440.8 349.1L441.6 350.5L442.3 351.8L443.0 353.2L443.7 354.5L444.4 355.9L445.0 357.3L445.7 358.6L446.4 360.0L451.4 366.4" stroke="#c0bc18" stroke-width="1.8" fill="none" stroke-linejoin="round" stroke-dasharray="8.1 7.65" stroke-dashoffset="15.15"/>
<path d="M451.4 366.4L457.1 366.4L464.3 359.3L465.1 358.0L465.8 356.6L466.6 355.3L467.4 354.0L468.2 352.7L469.0 351.4L469.8 350.1L470.7 348.8L471.5 347.6L472.4 346.3L473.3 345.1L474.1 343.8L475.0 342.6L475.9 341.4L476.9 340.2L477.8 339.0L478.7 337.8L479.7 336.6L480.6 335.4L481.6 334.2L482.6 333.1L483.6 332.0L484.6 330.8L485.6 329.7L486.6 328.6L487.7 327.5L488.7 326.4L489.7 325.3L490.8 324.2L491.9 323.2L492.9 322.1L494.0 321.1L495.1 320.0L496.2 319.0L497.3 318.0L498.4 317.0L499.5 316.0L500.7 315.0L501.8 314.1L503.0 313.1L504.1 312.2L505.3 311.2L506.4 310.3L507.6 309.4L508.8 308.5L510.0 307.5L511.2 306.7L512.4 305.8L513.6 304.9L514.8 304.0L516.0 303.2L517.2 302.3L518.4 301.4L519.7 300.6L520.9 299.8L522.1 299.0L523.4 298.1L524.6 297.3L525.9 296.5L527.2 295.7L528.4 294.9L529.7 294.1L531.0 293.4L532.2 292.6L533.5 291.8L534.8 291.1L536.1 290.3L537.4 289.5L538.7 288.8L540.0 288.0L541.3 287.3L542.6 286.6L543.9 285.8L545.2 285.1L546.5 284.4L547.8 283.7L549.2 283.0L550.5 282.2L551.8 281.5L553.1 280.8L554.4 280.1L555.8 279.4L557.1 278.7L558.4 278.0L559.8 277.3L561.1 276.6L562.4 275.9L563.8 275.2L565.1 274.5L566.4 273.8L567.8 273.1L569.1 272.4L570.4 271.7L571.8 271.0L573.1 270.3L574.5 269.6L575.8 268.9L577.1 268.2L578.5 267.5L579.8 266.8L581.1 266.1L582.5 265.4L583.8 264.6L585.2 263.9L586.5 263.2L587.8 262.5L589.2 261.7L590.5 261.0L591.8 260.3L593.1 259.5L594.5 258.8L595.8 258.0L597.1 257.3L598.4 256.5L599.8 255.8L601.1 255.0L602.4 254.2L603.7 253.4L605.0 252.6L606.3 251.8L607.6 251.0L608.9 250.2L610.2 249.4L611.5 248.6L612.8 247.8L614.1 246.9L615.4 246.1L616.7 245.3L617.9 244.4L619.2 243.6L620.5 242.7L621.7 241.8L623.0 241.0L624.3 240.1L625.5 239.2L626.8 238.3L628.0 237.4L629.3 236.5L630.5 235.6L631.7 234.7L632.9 233.8L634.2 232.9L635.4 232.0L636.6 231.1L637.8 230.1L639.0 229.2L640.2 228.2L641.4 227.3L642.5 226.3L643.7 225.4L644.9 224.4L646.0 223.5L647.2 222.5L648.3 221.5L649.5 220.5L650.6 219.5L651.7 218.6L652.9 217.6L654.0 216.6L655.1 215.6L656.2 214.6L657.3 213.5L658.3 212.5L659.4 211.5L660.5 210.5L661.5 209.5L662.6 208.4L663.6 207.4L664.7 206.3L665.7 205.3" stroke="#c0bc18" stroke-width="1.8" fill="none" stroke-linejoin="round" stroke-dasharray="8.1 7.65" stroke-dashoffset="2.48"/></g>
<g stroke="#000" stroke-width="0.3">
<g transform="translate(108.00,48.00) scale(0.954,1)"><text font-size="22.6" text-anchor="end">100.0</text><rect x="-56.33" y="-1.99" width="5.11" height="3.29" fill="#fff" stroke="none"/><rect x="-48.52" y="-1.99" width="4.49" height="3.29" fill="#fff" stroke="none"/></g>
<g transform="translate(108.00,173.83) scale(0.954,1)"><text font-size="22.6" text-anchor="end">10.0</text><rect x="-43.77" y="-1.99" width="5.11" height="3.29" fill="#fff" stroke="none"/><rect x="-35.96" y="-1.99" width="4.49" height="3.29" fill="#fff" stroke="none"/></g>
<g transform="translate(108.00,304.17) scale(0.954,1)"><text font-size="22.6" text-anchor="end">1.0</text><rect x="-31.20" y="-1.99" width="5.11" height="3.29" fill="#fff" stroke="none"/><rect x="-23.39" y="-1.99" width="4.49" height="3.29" fill="#fff" stroke="none"/></g>
<g transform="translate(108.00,428.00) scale(0.954,1)"><text font-size="22.6" text-anchor="end">0.1</text><rect x="-12.35" y="-1.99" width="5.11" height="3.29" fill="#fff" stroke="none"/><rect x="-4.54" y="-1.99" width="4.49" height="3.29" fill="#fff" stroke="none"/></g>
<g transform="translate(113.50,455.00) scale(0.954,1)"><text font-size="22.6" text-anchor="middle">0.1</text><rect x="3.36" y="-1.99" width="5.11" height="3.29" fill="#fff" stroke="none"/><rect x="11.17" y="-1.99" width="4.49" height="3.29" fill="#fff" stroke="none"/></g>
<g transform="translate(353.48,455.00) scale(0.954,1)"><text font-size="22.6" text-anchor="middle">1.0</text><rect x="-15.49" y="-1.99" width="5.11" height="3.29" fill="#fff" stroke="none"/><rect x="-7.68" y="-1.99" width="4.49" height="3.29" fill="#fff" stroke="none"/></g>
<g transform="translate(593.46,455.00) scale(0.954,1)"><text font-size="22.6" text-anchor="middle">10.0</text><rect x="-21.77" y="-1.99" width="5.11" height="3.29" fill="#fff" stroke="none"/><rect x="-13.96" y="-1.99" width="4.49" height="3.29" fill="#fff" stroke="none"/></g>
<g transform="translate(37.20,231.90) rotate(-90) scale(0.965,1)"><text font-size="22.6" text-anchor="middle">polarization degree (%)</text></g>
<g transform="translate(343.60,478.00) scale(0.954,1)"><text font-size="22.6" text-anchor="start">E</text></g>
<g transform="translate(357.20,488.00) scale(1.0,1)"><text font-size="13.4" text-anchor="start">obs</text></g>
<g transform="translate(384.60,478.00) scale(0.954,1)"><text font-size="22.6" text-anchor="start">(keV)</text></g>
</g>
<path d="M155.8 88H228.1" stroke="#3a00cc" stroke-width="1.9" fill="none"/>
<path d="M155.8 107.6H228.1" stroke="#80001c" stroke-width="1.9" fill="none"/>
<path d="M155.8 127.3H228.1" stroke="#ff2800" stroke-width="1.9" fill="none"/>
<path d="M155.8 146.9H228.1" stroke="#ffa238" stroke-width="1.9" fill="none"/>
<path d="M155.8 166.5H228.1" stroke="#c0bc18" stroke-width="1.9" fill="none"/>
<g stroke="#000" stroke-width="0.3">
<g transform="translate(235.00,90.60) scale(0.93,1)"><text font-size="22.6" text-anchor="start">L/L</text></g>
<g transform="translate(264.90,100.50) scale(1.0,1)"><text font-size="13.4" text-anchor="start">Edd</text></g>
<g transform="translate(288.60,90.60) scale(0.954,1)"><text font-size="22.6" text-anchor="start">=0.01</text><rect x="44.84" y="-1.99" width="5.11" height="3.29" fill="#fff" stroke="none"/><rect x="52.65" y="-1.99" width="4.49" height="3.29" fill="#fff" stroke="none"/></g>
<g transform="translate(343.00,110.10) scale(0.954,1)"><text font-size="22.6" text-anchor="end">0.03</text></g>
<g transform="translate(343.00,129.60) scale(0.954,1)"><text font-size="22.6" text-anchor="end">0.1</text><rect x="-12.35" y="-1.99" width="5.11" height="3.29" fill="#fff" stroke="none"/><rect x="-4.54" y="-1.99" width="4.49" height="3.29" fill="#fff" stroke="none"/></g>
<g transform="translate(343.00,149.10) scale(0.954,1)"><text font-size="22.6" text-anchor="end">0.3</text></g>
<g transform="translate(343.00,168.60) scale(0.954,1)"><text font-size="22.6" text-anchor="end">1.0</text><rect x="-31.20" y="-1.99" width="5.11" height="3.29" fill="#fff" stroke="none"/><rect x="-23.39" y="-1.99" width="4.49" height="3.29" fill="#fff" stroke="none"/></g>
</g>
<path d="M155.8 375.5H228.1" stroke="#000" stroke-width="1.8" fill="none"/>
<path d="M155.8 401.9H228.1" stroke="#000" stroke-width="1.8" fill="none" stroke-dasharray="8.1 7.65"/>
<g stroke="#000" stroke-width="0.3">
<g transform="translate(235.20,378.70) scale(0.954,1)"><text font-size="22.6" text-anchor="start">a/M=0</text></g>
<g transform="translate(265.20,404.40) scale(0.954,1)"><text font-size="22.6" text-anchor="start">0.9</text></g>
</g>
</svg></body></html>
